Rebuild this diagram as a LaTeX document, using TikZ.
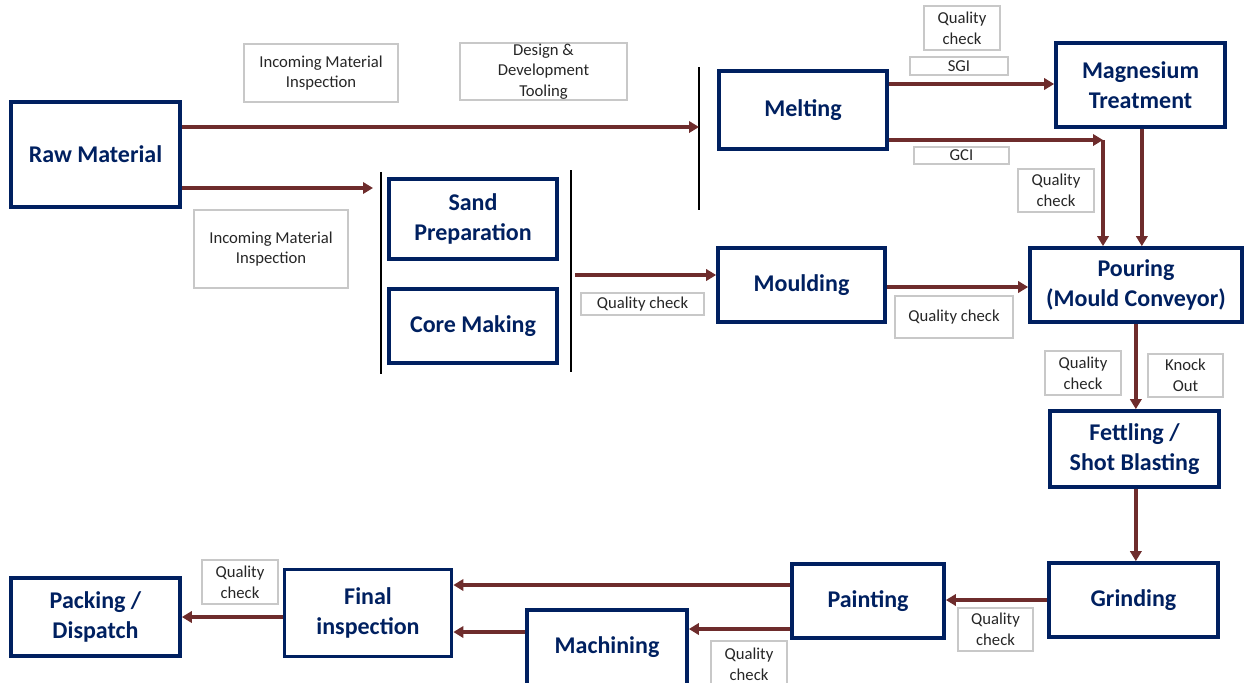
\documentclass[tikz,border=0pt]{standalone}
\usepackage{fontspec}
\setmainfont{Carlito}
\usetikzlibrary{arrows.meta,calc}
\definecolor{navy}{HTML}{002060}
\definecolor{maroon}{HTML}{6E2C2C}
\definecolor{tagline}{HTML}{C8C8C8}
\begin{document}
\begin{tikzpicture}[x=0.75pt,y=-0.75pt,
  sz/.style 2 args={minimum width=#1*0.75pt,minimum height=#2*0.75pt},
  stage/.style={draw=navy,line width=2.8pt,text=navy,
    font=\fontsize{18}{22}\selectfont\bfseries,align=center,inner sep=0pt},
  tag/.style={draw=tagline,line width=0.9pt,text=black!85,
    font=\fontsize{12.5}{15.5}\selectfont,align=center,inner sep=0pt},
  flow/.style={draw=maroon,line width=2.7pt,-{Triangle[length=7.5pt,width=8.5pt]}},
  bar/.style={draw=black,line width=1.6pt}]
\useasboundingbox (0,0) rectangle (1244,682);
\clip (0,0) rectangle (1244,682);

% process stages
\node[stage,sz={169}{105}] (raw)   at (95.5,154.5) {Raw Material};
\node[stage,sz={168}{78}]  (melt)  at (803,110)    {Melting};
\node[stage,sz={169}{84}]  (mag)   at (1140.5,85)  {Magnesium\\Treatment};
\node[stage,sz={168}{80}]  (sand)  at (473,219)    {Sand\\Preparation};
\node[stage,sz={168}{74}]  (core)  at (473,326)    {Core Making};
\node[stage,sz={167}{74}]  (mould) at (801.5,285)  {Moulding};
\node[stage,sz={212}{74}]  (pour)  at (1136,285)   {Pouring\\(Mould Conveyor)};
\node[stage,sz={169}{76}]  (fett)  at (1134.5,449) {Fettling /\\Shot Blasting};
\node[stage,sz={169}{74}]  (grind) at (1133.5,600) {Grinding};
\node[stage,sz={152}{74}]  (paint) at (868,601)    {Painting};
\node[stage,sz={160}{82},anchor=north] (mach) at (607,608)
  {\raisebox{3pt}[\height][\depth]{Machining}};
\node[stage,sz={167}{87}]  (final) at (368,613)    {Final\\inspection};
\node[stage,sz={169}{78}]  (pack)  at (95.5,617)   {Packing /\\Dispatch};

% annotation tags
\node[tag,sz={154}{58}] (inc1)   at (321,73)     {Incoming Material\\Inspection};
\node[tag,sz={154}{78}] (inc2)   at (271,249)    {Incoming Material\\Inspection};
\node[tag,sz={167}{57}] (design) at (543.5,71.5) {Design \&\\Development\\Tooling};
\node[tag,sz={123}{22}] (qc1)    at (642.5,304)  {Quality check};
\node[tag,sz={76}{44}]  (qc2)    at (962,28)     {Quality\\check};
\node[tag,sz={98}{18}]  (sgi)    at (959,66)     {SGI};
\node[tag,sz={95}{17}]  (gci)    at (961.5,155.5){GCI};
\node[tag,sz={76}{43}]  (qc3)    at (1056,190.5) {Quality\\check};
\node[tag,sz={118}{42}] (qc4)    at (954,317)    {Quality check};
\node[tag,sz={76}{44}]  (qc5)    at (1083,373)   {Quality\\check};
\node[tag,sz={75}{43}]  (knock)  at (1185.5,375.5){Knock\\Out};
\node[tag,sz={75}{43}]  (qc6)    at (995.5,629.5){Quality\\check};
\node[tag,sz={76}{46}]  (qc7)    at (749,664)    {Quality\\check};
\node[tag,sz={76}{44}]  (qc8)    at (240,582)    {Quality\\check};

% grouping bars
\coordinate (b1t) at (381,172); \coordinate (b1b) at (381,374);
\coordinate (b2t) at (571,170); \coordinate (b2b) at (571,372);
\coordinate (b3t) at (699,67);  \coordinate (b3b) at (699,210);
\draw[bar] (b1t) -- (b1b);
\draw[bar] (b2t) -- (b2b);
\draw[bar] (b3t) -- (b3b);

% material flow
\coordinate (r1) at ($(raw.east)+(0,-27.5)$);
\coordinate (r2) at ($(raw.east)+(0,33.5)$);
\draw[flow] (r1) -- (r1 -| b3t);
\draw[flow] (r2) -- ([xshift=-6pt]r2 -| b1t);
\coordinate (s1) at ([xshift=3pt]b2t |- mould.west);
\coordinate (s1) at ($(s1)+(0,-10)$);
\draw[flow] (s1) -- (s1 -| mould.west);
\coordinate (m1) at ($(melt.east)+(0,-26)$);
\draw[flow] (m1) -- (m1 -| mag.west);
\coordinate (m2) at ($(melt.east)+(0,30)$);
\coordinate (gcorner) at (1103,140);
\draw[flow] (m2) -- (gcorner);
\draw[flow] (gcorner) -- (gcorner |- pour.north);
\draw[flow] ([xshift=1pt]mag.south) -- ([xshift=1pt]mag.south |- pour.north);
\coordinate (mo) at ($(mould.east)+(0,2)$);
\draw[flow] (mo) -- (mo -| pour.west);
\draw[flow] ([xshift=1pt]fett.north |- pour.south) -- ([xshift=1pt]fett.north);
\draw[flow] ([xshift=1pt]fett.south) -- ([xshift=1pt]fett.south |- grind.north);
\draw[flow] (grind.west) -- (grind.west -| paint.east);
\coordinate (p1) at ($(paint.west)+(0,-16)$);
\draw[flow] (p1) -- (p1 -| final.east);
\coordinate (p2) at ($(paint.west)+(0,28)$);
\draw[flow] (p2) -- (p2 -| mach.east);
\coordinate (ma) at (mach.west |- 0,632);
\draw[flow] (ma) -- (ma -| final.east);
\draw[flow] (final.west |- pack.east) -- (pack.east);
\end{tikzpicture}
\end{document}
